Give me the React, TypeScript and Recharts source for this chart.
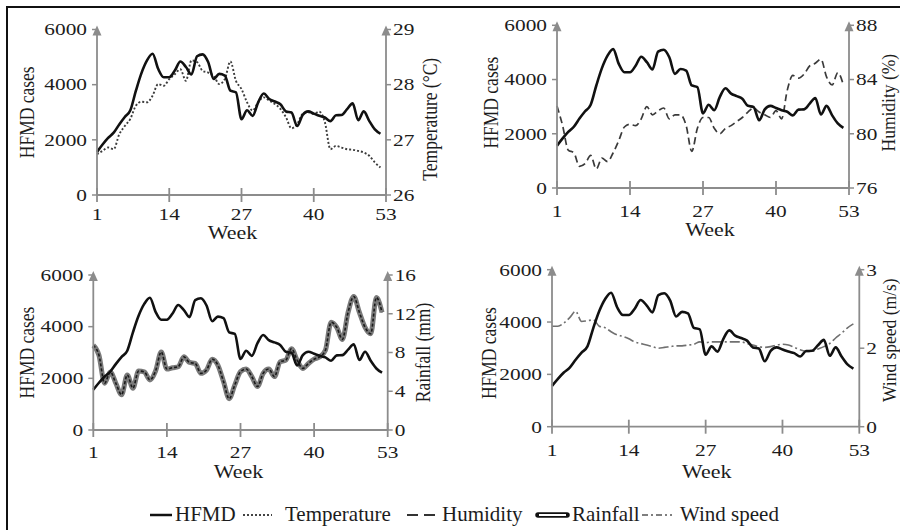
import React from 'react';
import { LineChart, Line, XAxis, YAxis, ReferenceDot } from 'recharts';

// ---------- data ----------
const weeks = [1, 2, 3, 4, 5, 6, 7, 8, 9, 10, 11, 12, 13, 14, 15, 16, 17, 18, 19, 20, 21, 22, 23, 24, 25, 26,
  27, 28, 29, 30, 31, 32, 33, 34, 35, 36, 37, 38, 39, 40, 41, 42, 43, 44, 45, 46, 47, 48, 49, 50, 51, 52];

const hfmd = [1560, 1830, 2070, 2260, 2560, 2830, 3070, 3780, 4420, 4880, 5120, 4575, 4270, 4270, 4510, 4840,
  4640, 4370, 5030, 5100, 4820, 4210, 4390, 4330, 3780, 3720, 2750, 3070, 2870, 3360, 3680, 3480, 3390, 3290,
  3030, 2990, 2500, 2900, 3030, 2950, 2870, 2810, 2680, 2890, 2900, 3110, 3320, 2710, 3030, 2680, 2380, 2220];

const temperature = [26.74, 26.8, 26.86, 26.83, 27.1, 27.25, 27.38, 27.62, 27.69, 27.68, 27.8, 28.01, 27.98,
  28.1, 28.19, 28.28, 28.07, 28.44, 28.41, 28.25, 28.22, 28.16, 28.01, 28.1, 28.42, 28.07, 27.92, 27.68, 27.53,
  27.68, 27.77, 27.71, 27.65, 27.56, 27.41, 27.21, 27.28, 27.47, 27.5, 27.47, 27.51, 27.32, 26.83, 26.89, 26.86,
  26.83, 26.82, 26.8, 26.77, 26.71, 26.59, 26.5];

const humidity = [82.05, 80.6, 78.8, 78.6, 77.6, 77.8, 78.4, 77.4, 78.2, 77.95, 78.6, 79.5, 80.5, 80.7, 80.6,
  81.1, 82.0, 81.4, 81.7, 81.9, 81.1, 81.4, 81.4, 80.6, 78.7, 80.4, 81.2, 81.2, 80.4, 80.0, 80.4, 80.6, 80.9,
  81.2, 81.6, 81.9, 81.6, 81.4, 81.2, 81.7, 81.1, 83.2, 84.3, 84.1, 84.4, 85.0, 85.2, 85.5, 84.2, 83.6, 84.5, 83.6];

const rainfall = [8.74, 7.72, 4.83, 6.0, 4.8, 3.64, 5.68, 4.32, 6.09, 6.0, 5.17, 6.09, 8.06, 6.29, 6.43, 6.53,
  7.55, 6.97, 6.87, 5.85, 6.19, 7.31, 6.7, 5.0, 3.23, 4.66, 6.02, 6.29, 5.51, 4.49, 5.85, 6.29, 5.51, 7.04, 7.21,
  8.4, 7.21, 6.36, 6.87, 7.31, 7.55, 8.23, 11.12, 10.6, 9.35, 12.14, 13.78, 12.14, 10.6, 9.93, 13.67, 12.14];

const windSpeed = [2.28, 2.28, 2.32, 2.39, 2.47, 2.34, 2.35, 2.36, 2.28, 2.26, 2.21, 2.17, 2.15, 2.12, 2.08,
  2.06, 2.04, 2.02, 2.0, 2.01, 2.02, 2.03, 2.03, 2.04, 2.05, 2.08, 2.07, 2.08, 2.08, 2.08, 2.08, 2.08, 2.08, 2.06,
  2.04, 2.02, 2.01, 2.02, 2.04, 2.05, 2.04, 2.01, 1.98, 1.96, 1.96, 1.99, 2.02, 2.06, 2.13, 2.19, 2.26, 2.31];

const weekTicks = [1, 14, 27, 40, 53];
const hfmdTicks = [0, 2000, 4000, 6000];
const tempTicks = [26, 27, 28, 29];
const humTicks = [76, 80, 84, 88];
const rainTicks = [0, 4, 8, 12, 16];
const windTicks = [1, 2, 3];
const windTickLabels: Record<number, string> = { 1: '0', 2: '2', 3: '3' };

const rows = weeks.map((w, i) => ({
  week: w,
  hfmd: hfmd[i],
  temperature: temperature[i],
  humidity: humidity[i],
  rainfall: rainfall[i],
  wind: windSpeed[i],
}));

// ---------- styles ----------
const AXIS = '#8c8c8c';
const TXT = '#1c1c1c';
const SERIF = '"Liberation Serif", "Times New Roman", serif';
const SX = 1.22;
const TICK_FS = 17.5;

const LeftTick = (props: any) => {
  const { x, y, payload } = props;
  return (
    <g transform={`translate(${x},${y})`}>
      <text transform={`scale(${SX},1)`} textAnchor="end" dominantBaseline="central"
        fontFamily={SERIF} fontSize={TICK_FS} fill={TXT}>{payload.value}</text>
    </g>
  );
};

const RightTick = (props: any) => {
  const { x, y, payload, fmt } = props;
  const label = fmt ? fmt[payload.value] : payload.value;
  return (
    <g transform={`translate(${x},${y})`}>
      <text transform={`scale(${SX},1)`} textAnchor="start" dominantBaseline="central"
        fontFamily={SERIF} fontSize={TICK_FS} fill={TXT}>{label}</text>
    </g>
  );
};

const XTick = (props: any) => {
  const { x, y, payload, dy } = props;
  return (
    <g>
      <line x1={x} x2={x} y1={y - 7} y2={y + 7} stroke={AXIS} strokeWidth={1.8} />
      <g transform={`translate(${x},${y + dy})`}>
        <text transform={`scale(${SX},1)`} textAnchor="middle" dominantBaseline="central"
          fontFamily={SERIF} fontSize={TICK_FS} fill={TXT}>{payload.value}</text>
      </g>
    </g>
  );
};

const Arrow = (props: any) => {
  const { cx, cy } = props;
  return <path d={`M${cx},${cy - 4} L${cx - 4.5},${cy + 6} L${cx + 4.5},${cy + 6} Z`} fill={AXIS} />;
};

const weekLabel = (dx: number, dy: number) => (props: any) => {
  const vb = props.viewBox || {};
  return (
    <g transform={`translate(${vb.x + vb.width / 2 + dx},${vb.y + dy})`}>
      <text transform={`scale(${SX},1)`} textAnchor="middle" fontFamily={SERIF} fontSize={18} fill={TXT}>Week</text>
    </g>
  );
};

const vLabel = (text: string, dx: number, dy: number, sy: number) => (props: any) => {
  const vb = props.viewBox || {};
  const cx = vb.x + dx;
  const cy = vb.y + vb.height / 2 + dy;
  return (
    <g transform={`translate(${cx},${cy}) rotate(-90) scale(1,${sy})`}>
      <text x={0} y={0} textAnchor="middle" dominantBaseline="central"
        fontFamily={SERIF} fontSize={17.5} fill={TXT}>{text}</text>
    </g>
  );
};

type Cfg = {
  left: number; top: number;
  plot: { x1: number; x2: number; yTop: number; yBot: number };
  key: string; domain: number[]; ticks: number[]; fmt?: Record<number, string>;
  rightLabel: string;
  leftDx: number; leftDy: number; rightDx: number; rightDy: number; rightSy: number;
  weekDx: number; weekDy: number; tickDy: number;
  kind: 'dot' | 'dash' | 'double' | 'dashdot';
};

// plot-area edges in page pixels (axis lines)
const panels: Cfg[] = [
  {
    left: 0, top: 0, plot: { x1: 97, x2: 386, yTop: 29.5, yBot: 195 },
    key: 'temperature', domain: [26, 29], ticks: tempTicks, rightLabel: 'Temperature (°C)',
    leftDx: -69, leftDy: 0, rightDx: 44, rightDy: 7, rightSy: 1.2, weekDx: -9, weekDy: 44, tickDy: 19, kind: 'dot',
  },
  {
    left: 450, top: 0, plot: { x1: 557, x2: 849, yTop: 25.3, yBot: 188 },
    key: 'humidity', domain: [76, 88], ticks: humTicks, rightLabel: 'Humidity (%)',
    leftDx: -65, leftDy: -4, rightDx: 40, rightDy: -4, rightSy: 1.05, weekDx: 7, weekDy: 48, tickDy: 23, kind: 'dash',
  },
  {
    left: 0, top: 250, plot: { x1: 93.3, x2: 387.7, yTop: 275, yBot: 430 },
    key: 'rainfall', domain: [0, 16], ticks: rainTicks, rightLabel: 'Rainfall (mm)',
    leftDx: -65, leftDy: 0, rightDx: 35, rightDy: 0, rightSy: 1.2, weekDx: -2, weekDy: 48, tickDy: 22, kind: 'double',
  },
  {
    left: 450, top: 250, plot: { x1: 552, x2: 859.3, yTop: 269.7, yBot: 426.7 },
    key: 'wind', domain: [1, 3], ticks: windTicks, fmt: windTickLabels, rightLabel: 'Wind speed (m/s)',
    leftDx: -62, leftDy: 5, rightDx: 30.5, rightDy: -8, rightSy: 1.05, weekDx: 1, weekDy: 51, tickDy: 23, kind: 'dashdot',
  },
];

const CW = 450;
const CH = 250;
const AXW = 1; // axis box thickness

const marginOf = (c: Cfg) => ({
  left: c.plot.x1 - c.left - AXW,
  right: CW - (c.plot.x2 - c.left) - AXW,
  top: c.plot.yTop - c.top,
  bottom: CH - (c.plot.yBot - c.top) - AXW,
});

const climateLines = (c: Cfg) => {
  if (c.kind === 'dot') {
    return [<Line key="c" yAxisId="right" dataKey={c.key} type="monotone" stroke="#3c3c3c" strokeWidth={1.9}
      strokeDasharray="2 2" dot={false} isAnimationActive={false} />];
  }
  if (c.kind === 'dash') {
    return [<Line key="c" yAxisId="right" dataKey={c.key} type="monotone" stroke="#3a3a3a" strokeWidth={1.7}
      strokeDasharray="7 4" dot={false} isAnimationActive={false} />];
  }
  if (c.kind === 'double') {
    return [
      <Line key="c1" id="rain-outer" yAxisId="right" dataKey={c.key} type="monotone" stroke="#7a7a7a" strokeWidth={5}
        dot={false} isAnimationActive={false} />,
      <Line key="c2" id="rain-inner" yAxisId="right" dataKey={c.key} type="monotone" stroke="#1a1a1a" strokeWidth={1.6}
        strokeDasharray="3 2" dot={false} isAnimationActive={false} />,
    ];
  }
  return [<Line key="c" yAxisId="right" dataKey={c.key} type="monotone" stroke="#707070" strokeWidth={1.6}
    strokeDasharray="10 3 2 3" dot={false} isAnimationActive={false} />];
};

const Panel = ({ c }: { c: Cfg }) => (
  <div style={{ position: 'absolute', left: c.left, top: c.top }}>
    <LineChart width={CW} height={CH} data={rows} margin={marginOf(c)}>
      <XAxis dataKey="week" type="number" domain={[1, 53]} ticks={weekTicks} interval={0} height={AXW}
        tickSize={0} tickMargin={0} tickLine={false} axisLine={{ stroke: AXIS, strokeWidth: 1.8 }}
        tick={<XTick dy={c.tickDy} />} label={{ content: weekLabel(c.weekDx, c.weekDy) } as any} />
      <YAxis yAxisId="left" width={AXW} domain={[0, 6000]} ticks={hfmdTicks} interval={0}
        tickSize={5} tickMargin={5} tickLine={{ stroke: AXIS, strokeWidth: 1.5 }}
        axisLine={{ stroke: AXIS, strokeWidth: 1.8 }} tick={<LeftTick />}
        label={{ content: vLabel('HFMD cases', c.leftDx, c.leftDy, 1.2) } as any} />
      <YAxis yAxisId="right" orientation="right" width={AXW} domain={c.domain} ticks={c.ticks} interval={0}
        tickSize={5} tickMargin={2} tickLine={{ stroke: AXIS, strokeWidth: 1.5 }}
        axisLine={{ stroke: AXIS, strokeWidth: 1.8 }} tick={<RightTick fmt={c.fmt} />}
        label={{ content: vLabel(c.rightLabel, c.rightDx, c.rightDy, c.rightSy) } as any} />
      {climateLines(c)}
      <Line yAxisId="left" dataKey="hfmd" type="monotone" stroke="#111" strokeWidth={2.6} dot={false}
        isAnimationActive={false} />
      <ReferenceDot yAxisId="left" x={1} y={6000} r={0} ifOverflow="visible" shape={Arrow} />
      <ReferenceDot yAxisId="right" x={53} y={c.domain[1]} r={0} ifOverflow="visible" shape={Arrow} />
    </LineChart>
  </div>
);

const Legend = () => {
  const y = 25;
  const base = 31;
  const t = { fontFamily: SERIF, fontSize: 21, fill: TXT };
  return (
    <svg width={900} height={40} style={{ position: 'absolute', left: 0, top: 490 }}>
      <line x1={150} x2={172} y1={y} y2={y} stroke="#111" strokeWidth={2.5} />
      <text x={175} y={base} {...t}>HFMD</text>
      <line x1={243} x2={272} y1={y} y2={y} stroke="#444" strokeWidth={1.8} strokeDasharray="2 2" />
      <text x={285} y={base} {...t}>Temperature</text>
      <line x1={407} x2={435} y1={y} y2={y} stroke="#333" strokeWidth={1.8} strokeDasharray="11 6" />
      <text x={442} y={base} {...t}>Humidity</text>
      <line x1={538} x2={567} y1={y} y2={y} stroke="#111" strokeWidth={5.5} strokeLinecap="round" />
      <line x1={539} x2={566} y1={y} y2={y} stroke="#fff" strokeWidth={2} />
      <text x={572} y={base} {...t}>Rainfall</text>
      <line x1={642} x2={672} y1={y} y2={y} stroke="#555" strokeWidth={1.6} strokeDasharray="6 3 2 3" />
      <text x={680} y={base} {...t}>Wind speed</text>
    </svg>
  );
};

export default function App() {
  return (
    <div style={{ position: 'fixed', left: 0, top: 0, width: 900, height: 530, background: '#fff', overflow: 'hidden' }}>
      <div style={{ position: 'absolute', left: 6, top: 6, width: 900, height: 530, borderTop: '2px solid #111', borderLeft: '2px solid #111' }} />
      {panels.map((c) => <Panel key={c.key} c={c} />)}
      <Legend />
    </div>
  );
}
